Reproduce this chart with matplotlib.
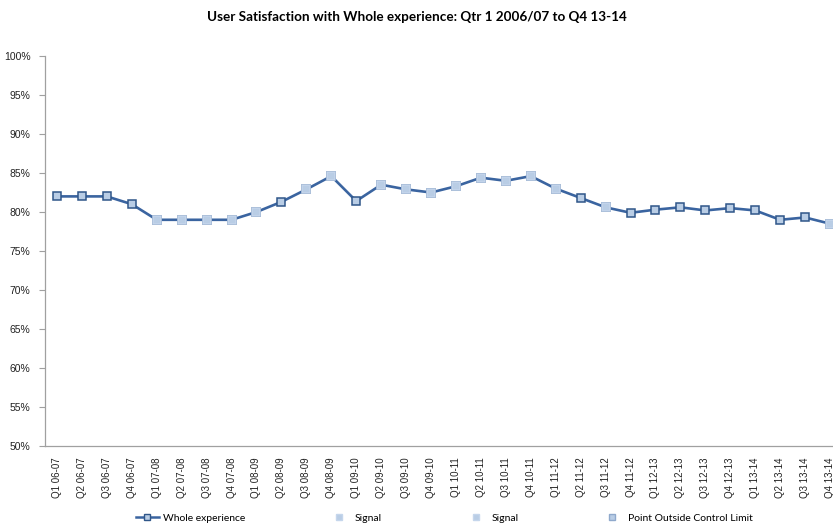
import numpy as np
import matplotlib.pyplot as plt
from matplotlib.lines import Line2D
from matplotlib.ticker import FuncFormatter

# quarters and satisfaction values (%)
years = ['06-07', '07-08', '08-09', '09-10', '10-11', '11-12', '12-13', '13-14']
quarters = [f'Q{q} {y}' for y in years for q in range(1, 5)]
whole = [82.0, 82.0, 82.0, 81.0, 79.0, 79.0, 79.0, 79.0,
         80.0, 81.3, 82.9, 84.6, 81.4, 83.5, 82.9, 82.5,
         83.3, 84.4, 84.0, 84.6, 83.0, 81.8, 80.6, 79.9,
         80.3, 80.6, 80.2, 80.5, 80.2, 79.0, 79.3, 78.5]
# indices flagged as signals
signal_low_idx = [4, 5, 6, 7, 8, 22, 31]
signal_high_idx = [10, 11, 13, 14, 15, 16, 17, 18, 19, 20]

line_col = '#3a64a0'
fill_col = '#b9cde5'
edge_dark = '#2f5689'
edge_light = '#c5d6ec'

plt.rcParams['font.family'] = ['Liberation Sans', 'DejaVu Sans']

fig = plt.figure(figsize=(8.33, 5.25), dpi=100)
ax = fig.add_axes([44.5 / 833, 79 / 525, 798 / 833, 390 / 525])

x = np.arange(len(quarters))
ax.plot(x, whole, color=line_col, lw=1.9, marker='s', ms=5.3,
        mfc=fill_col, mec=edge_dark, mew=1.1, zorder=3)

sig1 = np.full(len(whole), np.nan)
sig1[signal_low_idx] = np.array(whole)[signal_low_idx]
sig2 = np.full(len(whole), np.nan)
sig2[signal_high_idx] = np.array(whole)[signal_high_idx]
ax.plot(x, sig1, ls='none', marker='s', ms=5.6, mfc=fill_col, mec=edge_light, mew=1.1, zorder=4)
ax.plot(x, sig2, ls='none', marker='s', ms=5.6, mfc=fill_col, mec=edge_light, mew=1.1, zorder=4)

ax.set_xlim(-0.5, len(quarters) - 0.5)
ax.set_ylim(50, 100)
ax.set_yticks(np.arange(50, 101, 5))
ax.yaxis.set_major_formatter(FuncFormatter(lambda v, p: f'{v:.0f}%'))
ax.set_xticks(x)
ax.set_xticklabels(quarters, rotation=90, fontsize=7, color='#222222')
ax.tick_params(axis='x', length=0, pad=8)
ax.tick_params(axis='y', length=4, width=0.8, color='#a0a0a0', labelsize=7.5, pad=6,
               labelcolor='#222222')
for s in ['top', 'right']:
    ax.spines[s].set_visible(False)
for s in ['left', 'bottom']:
    ax.spines[s].set_color('#a0a0a0')
    ax.spines[s].set_linewidth(0.9)

fig.text(0.5, 1 - 17 / 525, 'User Satisfaction with Whole experience: Qtr 1 2006/07 to Q4 13-14',
         ha='center', va='center', fontsize=9.7, fontweight='bold', family=['Lato', 'DejaVu Sans'])

handles = [
    Line2D([], [], color=line_col, lw=1.8, marker='s', ms=4.5, mfc=fill_col, mec=edge_dark, mew=1.0),
    Line2D([], [], ls='none', marker='s', ms=4.5, mfc=fill_col, mec=edge_light),
    Line2D([], [], ls='none', marker='s', ms=4.5, mfc=fill_col, mec=edge_light),
    Line2D([], [], ls='none', marker='s', ms=4.5, mfc=fill_col, mec='#8fa9cc'),
]
labels = ['Whole experience', 'Signal', 'Signal', 'Point Outside Control Limit']
fig.legend(handles, labels, loc='center left', bbox_to_anchor=(0.152, 1 - 518 / 525), ncol=4,
           frameon=False, prop={'family': ['Lato', 'DejaVu Sans'], 'size': 7.5},
           handlelength=2.2, handletextpad=0.4, columnspacing=7.9)

fig.savefig('out.png', dpi=100)
